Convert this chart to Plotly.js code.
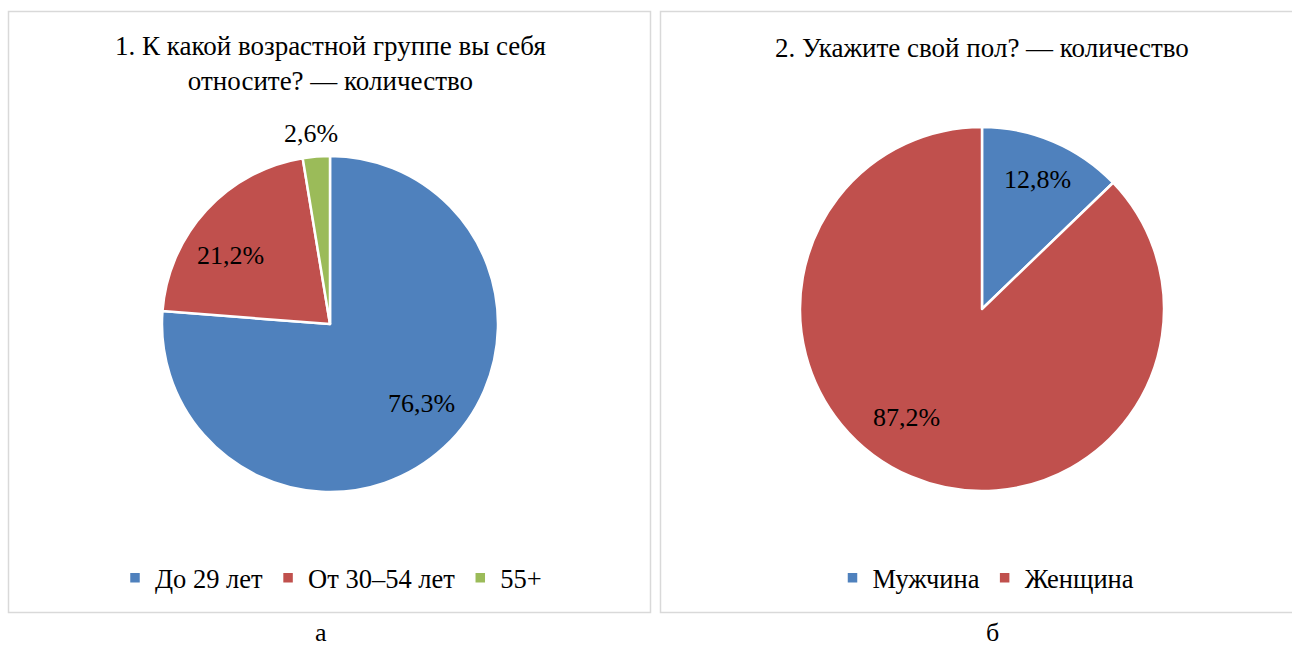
<!DOCTYPE html>
<html>
<head>
<meta charset="utf-8">
<script src="https://cdn.plot.ly/plotly-3.0.1.min.js"></script>
<style>
  html, body { margin: 0; padding: 0; background: #fff; }
  #chart { width: 1292px; height: 646px; }
</style>
</head>
<body>
<div id="chart"></div>
<script>
// ---- data ----
const ageLabels = ['До 29 лет', 'От 30–54 лет', '55+'];
const ageValues = [76.3, 21.2, 2.6];
const sexLabels = ['Мужчина', 'Женщина'];
const sexValues = [12.8, 87.2];
const title1 = '1. К какой возрастной группе вы себя<br>относите? — количество';
const title2 = '2. Укажите свой пол? — количество';
const panelLabels = ['а', 'б'];

// ---- style / placement ----
const W = 1292, H = 646;
const px = v => v / W;
const py = v => 1 - v / H;
const fmt = v => v.toFixed(1).replace('.', ',') + '%';
const FONT = 'Liberation Serif';
const colorsAge = ['#4F81BD', '#C0504D', '#9BBB59'];
const colorsSex = ['#4F81BD', '#C0504D'];

// pie geometry (pixels): centre and radius
const pieAge = { cx: 330, cy: 324, r: 168 };
const pieSex = { cx: 982, cy: 309, r: 182 };
// label placement: radial factor and angular nudge (degrees) per slice
const ageLabelPos = { f: [0.72, 0.72, 1.14], nudge: [-6, -8, -1] };
const sexLabelPos = { f: [0.775, 0.725], nudge: [0, 12] };

function pieDomain(p) {
  return { x: [px(p.cx - p.r), px(p.cx + p.r)], y: [py(p.cy + p.r), py(p.cy - p.r)] };
}

function labelAnnotations(values, p, pos) {
  const total = values.reduce((a, b) => a + b, 0);
  let cum = 0;
  return values.map((v, i) => {
    const mid = (cum + v / 2) / total;
    cum += v;
    const th = (mid * 360 + pos.nudge[i]) * Math.PI / 180;
    const x = p.cx + pos.f[i] * p.r * Math.sin(th);
    const y = p.cy - pos.f[i] * p.r * Math.cos(th);
    return {
      text: fmt(v), xref: 'paper', yref: 'paper', x: px(x), y: py(y),
      xanchor: 'center', yanchor: 'middle', showarrow: false,
      font: { family: FONT, size: 26, color: '#000000' }
    };
  });
}

const traces = [
  {
    type: 'pie', labels: ageLabels, values: ageValues,
    textinfo: 'none', hoverinfo: 'label+percent',
    sort: false, direction: 'clockwise', rotation: 0,
    marker: { colors: colorsAge, line: { color: '#ffffff', width: 2.5 } },
    domain: pieDomain(pieAge),
    legend: 'legend'
  },
  {
    type: 'pie', labels: sexLabels, values: sexValues,
    textinfo: 'none', hoverinfo: 'label+percent',
    sort: false, direction: 'clockwise', rotation: 0,
    marker: { colors: colorsSex, line: { color: '#ffffff', width: 2.5 } },
    domain: pieDomain(pieSex),
    legend: 'legend2'
  }
];

const legendBase = {
  orientation: 'h', xanchor: 'center', yanchor: 'middle',
  font: { family: FONT, size: 26.5, color: '#000000' },
  bgcolor: 'rgba(0,0,0,0)', itemclick: false, itemdoubleclick: false,
  traceorder: 'normal'
};

const annFont = { family: FONT, size: 26, color: '#000000' };
const titleFont = { family: FONT, size: 27, color: '#000000' };

const layout = {
  width: W, height: H,
  margin: { l: 0, r: 0, t: 0, b: 0 },
  paper_bgcolor: '#ffffff',
  font: { family: FONT, size: 26, color: '#000000' },
  showlegend: true,
  legend: Object.assign({}, legendBase, { x: px(331), y: py(578) }),
  legend2: Object.assign({}, legendBase, { x: px(986), y: py(578) }),
  shapes: [
    { type: 'rect', xref: 'paper', yref: 'paper', x0: px(8.5), x1: px(650.5), y0: py(612.5), y1: py(11.5),
      line: { color: '#d9d9d9', width: 1.5 }, fillcolor: 'rgba(0,0,0,0)' },
    { type: 'rect', xref: 'paper', yref: 'paper', x0: px(660.5), x1: px(1300), y0: py(612.5), y1: py(11.5),
      line: { color: '#d9d9d9', width: 1.5 }, fillcolor: 'rgba(0,0,0,0)' }
  ],
  annotations: [
    { text: title1, xref: 'paper', yref: 'paper', x: px(330.5), y: py(63), xanchor: 'center', yanchor: 'middle',
      showarrow: false, font: titleFont, align: 'center' },
    { text: title2, xref: 'paper', yref: 'paper', x: px(982), y: py(48), xanchor: 'center', yanchor: 'middle',
      showarrow: false, font: titleFont },
    { text: panelLabels[0], xref: 'paper', yref: 'paper', x: px(321), y: py(632), xanchor: 'center', yanchor: 'middle',
      showarrow: false, font: annFont },
    { text: panelLabels[1], xref: 'paper', yref: 'paper', x: px(992), y: py(632), xanchor: 'center', yanchor: 'middle',
      showarrow: false, font: annFont }
  ].concat(labelAnnotations(ageValues, pieAge, ageLabelPos), labelAnnotations(sexValues, pieSex, sexLabelPos))
};

Plotly.newPlot('chart', traces, layout, { displayModeBar: false, staticPlot: true });
</script>
</body>
</html>
